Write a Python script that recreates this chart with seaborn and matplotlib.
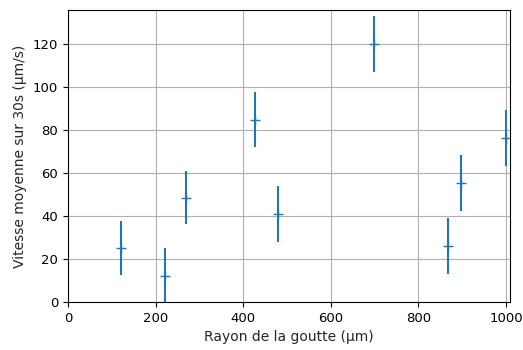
import numpy as np
import matplotlib
matplotlib.use('Agg')
import matplotlib.pyplot as plt
import seaborn as sns

# values
rayon = [120, 221, 270, 428, 480, 699, 868, 898, 999]
vitesse = [25, 12, 48.5, 85, 41, 120, 26, 55.5, 76.5]
erreur = [12.6, 13, 12.4, 13, 13, 13, 13, 13, 13]

sns.set_style('ticks')
plt.rcParams['font.family'] = ['DejaVu Sans']

fig, ax = plt.subplots(figsize=(5.23, 3.5), dpi=100)
fig.subplots_adjust(left=68/523, right=510/523, top=1-10/350, bottom=1-302/350)

ax.errorbar(rayon, vitesse, yerr=erreur, fmt='none', ecolor='#1f77b4', elinewidth=1.5)
sns.scatterplot(x=rayon, y=vitesse, marker='+', s=60, color='#1f77b4', linewidth=1, ax=ax)

ax.set_xlim(0, 1009)
ax.set_ylim(0, 136)
ax.grid(True, color='#b0b0b0', linewidth=0.8)
for s in ax.spines.values():
    s.set_color('black')
    s.set_linewidth(0.8)
ax.tick_params(colors='black', labelsize=9.5, length=3.5, width=0.8)
ax.set_xlabel('Rayon de la goutte (µm)', fontsize=10)
ax.set_ylabel('Vitesse moyenne sur 30s (µm/s)', fontsize=10)

plt.savefig('out.png', dpi=100)
